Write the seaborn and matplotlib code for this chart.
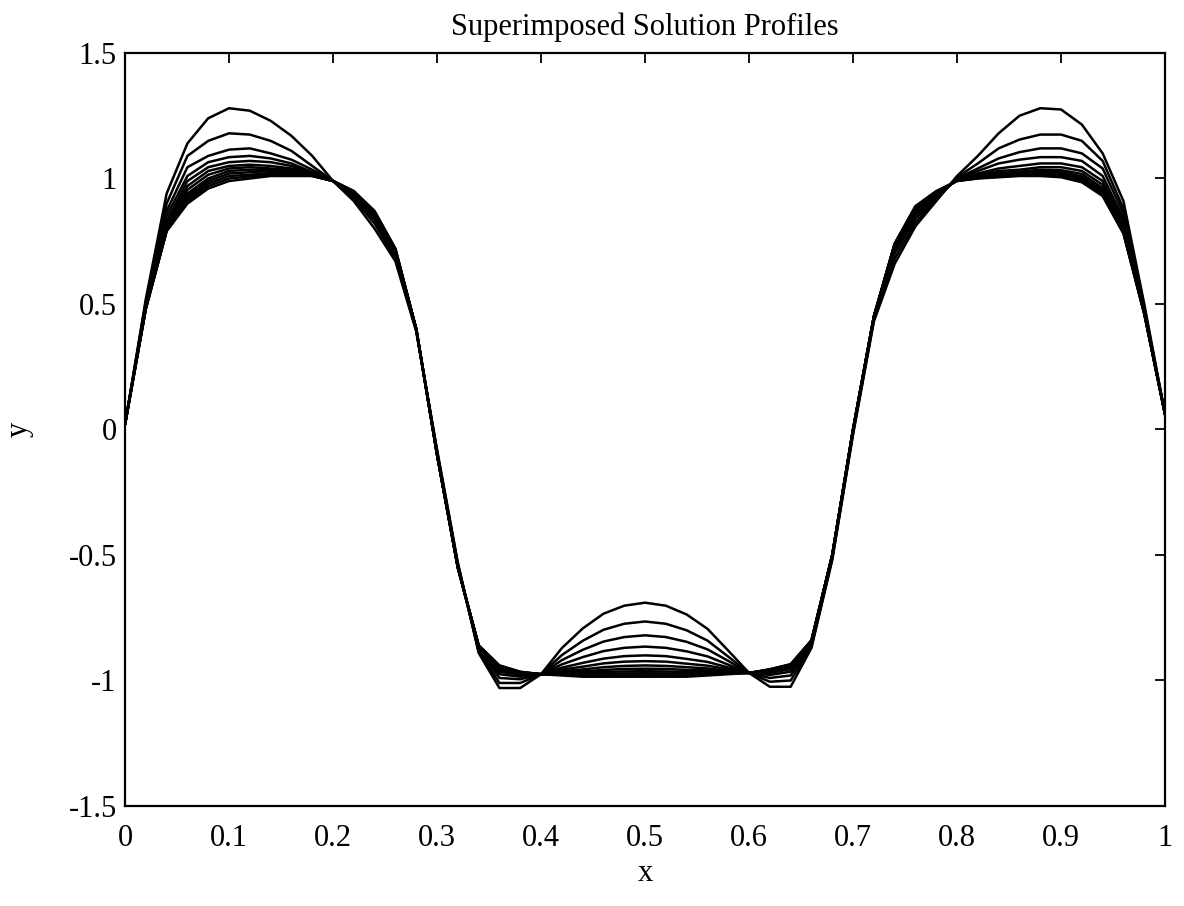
import numpy as np
import pandas as pd
import matplotlib
matplotlib.use("Agg")
import matplotlib.pyplot as plt
import seaborn as sns

# grid nodes (h = 0.02)
x_nodes = [0.00, 0.02, 0.04, 0.06, 0.08, 0.10, 0.12, 0.14, 0.16, 0.18,
           0.20, 0.22, 0.24, 0.26, 0.28, 0.30, 0.32, 0.34, 0.36, 0.38,
           0.40, 0.42, 0.44, 0.46, 0.48, 0.50, 0.52, 0.54, 0.56, 0.58,
           0.60, 0.62, 0.64, 0.66, 0.68, 0.70, 0.72, 0.74, 0.76, 0.78,
           0.80, 0.82, 0.84, 0.86, 0.88, 0.90, 0.92, 0.94, 0.96, 0.98,
           1.00]

# solution profiles, earliest (largest bumps) first
profile_01 = [0.02, 0.52, 0.94, 1.14, 1.24, 1.28, 1.27, 1.23, 1.17, 1.09,
              0.99, 0.91, 0.80, 0.67, 0.39, -0.08, -0.53, -0.89, -1.03, -1.03,
              -0.975, -0.871, -0.793, -0.734, -0.702, -0.69, -0.702, -0.737, -0.794, -0.881,
              -0.97, -1.025, -1.025, -0.87, -0.52, -0.02, 0.43, 0.66, 0.81, 0.91,
              1.01, 1.09, 1.18, 1.25, 1.28, 1.275, 1.215, 1.10, 0.91, 0.50,
              0.06]
profile_02 = [0.02, 0.51, 0.90, 1.09, 1.15, 1.18, 1.175, 1.15, 1.11, 1.05,
              0.99, 0.92, 0.82, 0.68, 0.395, -0.085, -0.535, -0.885, -1.01, -1.01,
              -0.975, -0.899, -0.842, -0.798, -0.774, -0.765, -0.774, -0.800, -0.841, -0.905,
              -0.97, -1.005, -1.0, -0.865, -0.515, -0.015, 0.435, 0.68, 0.825, 0.915,
              1.005, 1.06, 1.12, 1.155, 1.175, 1.175, 1.15, 1.07, 0.88, 0.49,
              0.06]
profile_03 = [0.02, 0.505, 0.87, 1.045, 1.09, 1.115, 1.12, 1.10, 1.075, 1.035,
              0.99, 0.925, 0.835, 0.69, 0.40, -0.09, -0.54, -0.88, -0.99, -0.995,
              -0.975, -0.919, -0.878, -0.845, -0.827, -0.82, -0.827, -0.846, -0.876, -0.922,
              -0.97, -0.99, -0.98, -0.86, -0.51, -0.01, 0.44, 0.70, 0.84, 0.92,
              1.0, 1.04, 1.08, 1.105, 1.12, 1.12, 1.10, 1.04, 0.86, 0.48,
              0.06]
profile_04 = [0.02, 0.50, 0.85, 1.01, 1.065, 1.085, 1.09, 1.08, 1.06, 1.025,
              0.99, 0.93, 0.845, 0.70, 0.40, -0.095, -0.545, -0.875, -0.975, -0.985,
              -0.975, -0.936, -0.907, -0.883, -0.870, -0.865, -0.870, -0.884, -0.904, -0.937,
              -0.97, -0.978, -0.965, -0.855, -0.505, -0.005, 0.445, 0.715, 0.853, 0.926,
              0.998, 1.03, 1.06, 1.075, 1.085, 1.085, 1.07, 1.01, 0.84, 0.475,
              0.06]
profile_05 = [0.02, 0.495, 0.83, 0.99, 1.045, 1.065, 1.07, 1.065, 1.05, 1.02,
              0.99, 0.935, 0.85, 0.705, 0.40, -0.10, -0.55, -0.87, -0.965, -0.978,
              -0.975, -0.949, -0.930, -0.913, -0.903, -0.900, -0.903, -0.914, -0.926, -0.948,
              -0.97, -0.97, -0.955, -0.85, -0.505, 0.0, 0.447, 0.725, 0.862, 0.93,
              0.996, 1.02, 1.04, 1.05, 1.06, 1.06, 1.045, 0.99, 0.825, 0.47,
              0.06]
profile_06 = [0.02, 0.49, 0.82, 0.97, 1.03, 1.05, 1.055, 1.05, 1.04, 1.017,
              0.99, 0.94, 0.855, 0.71, 0.40, -0.10, -0.55, -0.865, -0.958, -0.974,
              -0.975, -0.957, -0.945, -0.932, -0.925, -0.923, -0.925, -0.933, -0.941, -0.955,
              -0.97, -0.965, -0.948, -0.847, -0.50, 0.0, 0.448, 0.73, 0.869, 0.934,
              0.995, 1.015, 1.03, 1.035, 1.045, 1.045, 1.03, 0.975, 0.81, 0.468,
              0.06]
profile_07 = [0.02, 0.487, 0.81, 0.955, 1.015, 1.04, 1.045, 1.04, 1.035, 1.015,
              0.99, 0.942, 0.86, 0.713, 0.40, -0.10, -0.55, -0.863, -0.952, -0.971,
              -0.975, -0.963, -0.956, -0.947, -0.942, -0.940, -0.942, -0.947, -0.952, -0.961,
              -0.97, -0.962, -0.944, -0.845, -0.50, 0.0, 0.449, 0.733, 0.874, 0.937,
              0.994, 1.01, 1.022, 1.027, 1.035, 1.033, 1.018, 0.962, 0.80, 0.466,
              0.06]
profile_08 = [0.02, 0.485, 0.80, 0.94, 1.0, 1.03, 1.035, 1.035, 1.03, 1.013,
              0.99, 0.945, 0.862, 0.715, 0.40, -0.10, -0.55, -0.862, -0.948, -0.969,
              -0.975, -0.968, -0.964, -0.958, -0.954, -0.953, -0.954, -0.958, -0.960, -0.965,
              -0.97, -0.96, -0.941, -0.843, -0.50, 0.0, 0.45, 0.736, 0.878, 0.94,
              0.993, 1.007, 1.016, 1.021, 1.027, 1.025, 1.008, 0.952, 0.795, 0.465,
              0.06]
profile_09 = [0.02, 0.483, 0.795, 0.93, 0.99, 1.02, 1.025, 1.03, 1.025, 1.012,
              0.99, 0.947, 0.865, 0.717, 0.40, -0.10, -0.55, -0.861, -0.945, -0.968,
              -0.975, -0.972, -0.971, -0.966, -0.964, -0.963, -0.964, -0.967, -0.966, -0.968,
              -0.97, -0.958, -0.939, -0.842, -0.50, 0.0, 0.45, 0.738, 0.882, 0.943,
              0.992, 1.005, 1.012, 1.017, 1.021, 1.018, 1.0, 0.945, 0.79, 0.463,
              0.06]
profile_10 = [0.02, 0.482, 0.793, 0.92, 0.98, 1.01, 1.015, 1.022, 1.02, 1.011,
              0.99, 0.948, 0.867, 0.718, 0.40, -0.10, -0.55, -0.86, -0.943, -0.967,
              -0.975, -0.975, -0.976, -0.973, -0.972, -0.971, -0.972, -0.973, -0.971, -0.971,
              -0.97, -0.957, -0.937, -0.841, -0.50, 0.0, 0.45, 0.739, 0.885, 0.945,
              0.991, 1.003, 1.009, 1.014, 1.016, 1.012, 0.994, 0.94, 0.786, 0.462,
              0.06]
profile_11 = [0.02, 0.481, 0.791, 0.91, 0.97, 1.0, 1.008, 1.016, 1.015, 1.01,
              0.99, 0.949, 0.868, 0.719, 0.40, -0.10, -0.55, -0.86, -0.941, -0.966,
              -0.975, -0.977, -0.980, -0.979, -0.978, -0.978, -0.978, -0.979, -0.976, -0.973,
              -0.97, -0.956, -0.936, -0.84, -0.50, 0.0, 0.45, 0.74, 0.888, 0.948,
              0.99, 1.001, 1.007, 1.012, 1.013, 1.008, 0.99, 0.935, 0.783, 0.461,
              0.06]
profile_12 = [0.02, 0.48, 0.79, 0.90, 0.96, 0.99, 1.00, 1.01, 1.01, 1.01,
              0.99, 0.95, 0.87, 0.72, 0.40, -0.10, -0.55, -0.86, -0.94, -0.965,
              -0.975, -0.98, -0.985, -0.985, -0.985, -0.985, -0.985, -0.985, -0.98, -0.975,
              -0.97, -0.955, -0.935, -0.84, -0.50, 0.00, 0.45, 0.74, 0.89, 0.95,
              0.99, 1.00, 1.005, 1.01, 1.01, 1.005, 0.985, 0.93, 0.78, 0.46,
              0.06]

profiles = [profile_01, profile_02, profile_03, profile_04, profile_05, profile_06,
            profile_07, profile_08, profile_09, profile_10, profile_11, profile_12]

x_ticks = [0, 0.1, 0.2, 0.3, 0.4, 0.5, 0.6, 0.7, 0.8, 0.9, 1]
x_tick_labels = ["0", "0.1", "0.2", "0.3", "0.4", "0.5", "0.6", "0.7", "0.8", "0.9", "1"]
y_ticks = [-1.5, -1, -0.5, 0, 0.5, 1, 1.5]
y_tick_labels = ["-1.5", "-1", "-0.5", "0", "0.5", "1", "1.5"]

# long table: one row per node per profile
df = pd.DataFrame({
    "x": x_nodes * len(profiles),
    "y": [v for p in profiles for v in p],
    "profile": [i for i, p in enumerate(profiles) for _ in p],
})

sns.set_theme(style="white")
plt.rcParams["font.family"] = ["Liberation Serif", "DejaVu Serif"]
plt.rcParams["axes.unicode_minus"] = False

fig = plt.figure(figsize=(11.84, 9.06), dpi=100)
ax = fig.add_axes([0.1056, 0.1104, 0.8784, 0.8311])

sns.lineplot(data=df, x="x", y="y", units="profile", estimator=None,
             color="black", linewidth=1.8, legend=False, ax=ax)

ax.set_xlim(0, 1)
ax.set_ylim(-1.5, 1.5)
ax.set_xticks(x_ticks)
ax.set_xticklabels(x_tick_labels)
ax.set_yticks(y_ticks)
ax.set_yticklabels(y_tick_labels)
ax.tick_params(which="both", direction="in", top=True, right=True,
               length=7, width=1.3, color="black", labelsize=22,
               labelcolor="black")
ax.tick_params(axis="x", pad=13)
ax.tick_params(axis="y", pad=6)
for sp in ax.spines.values():
    sp.set_visible(True)
    sp.set_color("black")
    sp.set_linewidth(1.6)

ax.set_xlabel("x", fontsize=22, labelpad=4, color="black")
ax.set_ylabel("y", fontsize=22, labelpad=25, color="black")
ax.set_title("Superimposed Solution Profiles", fontsize=22, pad=13, color="black")

fig.savefig("out.png", dpi=100, facecolor="white")
